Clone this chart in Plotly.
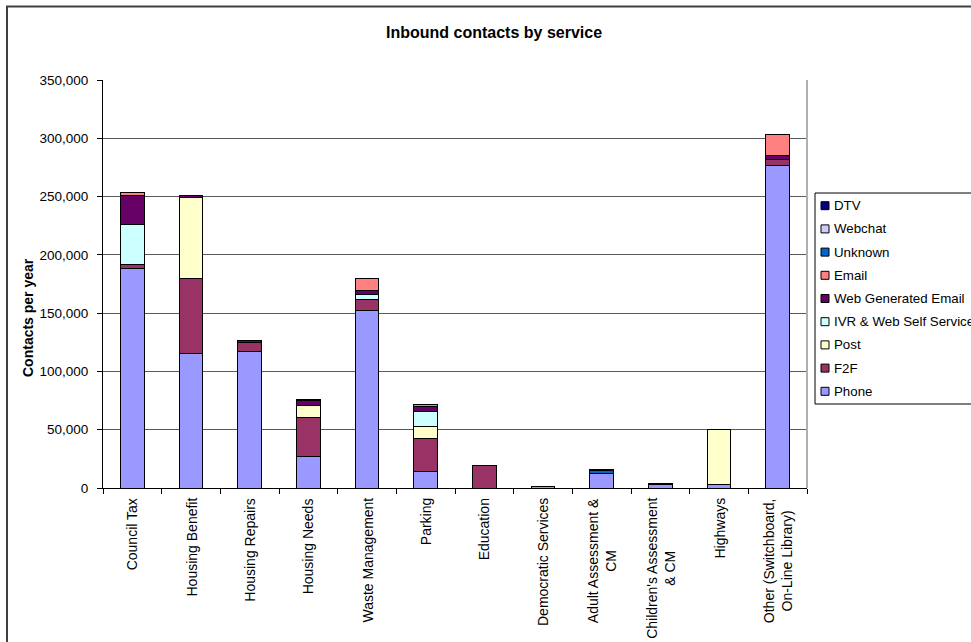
import plotly.graph_objects as go

categories = [
    "Council Tax", "Housing Benefit", "Housing Repairs", "Housing Needs",
    "Waste Management", "Parking", "Education", "Democratic Services",
    "Adult Assessment &<br>CM", "Children's Assessment<br>& CM", "Highways",
    "Other (Switchboard,<br>On-Line Library)",
]

phone   = [188000, 115500, 117000, 27000, 152000, 14000, 0, 1100, 12600, 2800, 3400, 277000]
f2f     = [3800, 64000, 8200, 33800, 9500, 28700, 19500, 0, 0, 0, 0, 4900]
post    = [0, 69500, 0, 10000, 0, 10000, 0, 0, 0, 0, 46400, 0]
ivr     = [34500, 0, 0, 0, 4300, 13200, 0, 0, 0, 0, 0, 0]
web_gen = [25000, 1500, 1300, 4300, 4000, 4300, 0, 0, 0, 500, 500, 3700]
email   = [2300, 0, 0, 0, 10300, 1700, 0, 0, 0, 0, 0, 18000]
unknown = [0, 0, 0, 0, 0, 0, 0, 0, 2800, 700, 0, 0]
webchat = [0, 0, 0, 0, 0, 0, 0, 0, 0, 0, 0, 0]
dtv     = [0, 0, 0, 1200, 0, 0, 0, 0, 800, 0, 0, 0]

series_names = ["Phone", "F2F", "Post", "IVR & Web Self Service", "Web Generated Email",
                "Email", "Unknown", "Webchat", "DTV"]
series_values = [phone, f2f, post, ivr, web_gen, email, unknown, webchat, dtv]
series_colors = ["#9999FF", "#993366", "#FFFFCC", "#CCFFFF", "#660066",
                 "#FF8080", "#0066CC", "#CCCCFF", "#000080"]

y_ticks = [0, 50000, 100000, 150000, 200000, 250000, 300000, 350000]

FONT = "Arial, Liberation Sans, sans-serif"
W, H = 971, 642
L, R, T, B = 103, 164, 80, 154
PW, PH = W - L - R, H - T - B


def px_x(px):
    return (px - L) / PW


def px_y(py):
    return (H - B - py) / PH


fig = go.Figure()
for name, vals, col in zip(series_names, series_values, series_colors):
    fig.add_trace(go.Bar(
        x=categories, y=[v if v else None for v in vals], name=name,
        marker=dict(color=col, line=dict(color="black", width=1)),
        showlegend=False,
    ))

shapes = []
annotations = []

# outer chart border
shapes.append(dict(type="rect", xref="paper", yref="paper",
                   x0=px_x(7), x1=px_x(1000), y0=px_y(6.5), y1=px_y(680),
                   line=dict(color="#404040", width=2), layer="below"))
# plot area right border
shapes.append(dict(type="line", xref="paper", yref="paper", x0=1, x1=1, y0=0, y1=1,
                   line=dict(color="#B0B0B0", width=2)))

# category labels
for c in categories:
    annotations.append(dict(xref="x", yref="paper", x=c, y=0, yshift=-8,
                            text=c, textangle=-90, showarrow=False,
                            xanchor="center", yanchor="top", align="center",
                            font=dict(family=FONT, size=14, color="black")))

# title
annotations.append(dict(xref="paper", yref="paper", x=px_x(494), y=px_y(33),
                        text="<b>Inbound contacts by service</b>", showarrow=False,
                        xanchor="center", yanchor="middle",
                        font=dict(family=FONT, size=16, color="black")))
# y-axis title
annotations.append(dict(xref="paper", yref="paper", x=px_x(28), y=px_y(318),
                        text="<b>Contacts per year</b>", showarrow=False, textangle=-90,
                        xanchor="center", yanchor="middle",
                        font=dict(family=FONT, size=14, color="black")))

# legend (manual, reversed order: DTV on top)
shapes.append(dict(type="rect", xref="paper", yref="paper",
                   x0=px_x(815), x1=px_x(1000), y0=px_y(193), y1=px_y(404),
                   line=dict(color="black", width=1), fillcolor="white"))
row_y0, row_dy = 205.7, 23.2
for i, (name, col) in enumerate(zip(reversed(series_names), reversed(series_colors))):
    cy = row_y0 + i * row_dy
    shapes.append(dict(type="rect", xref="paper", yref="paper",
                       x0=px_x(821), x1=px_x(829), y0=px_y(cy - 4), y1=px_y(cy + 4),
                       line=dict(color="black", width=1), fillcolor=col))
    annotations.append(dict(xref="paper", yref="paper", x=px_x(832), y=px_y(cy),
                            text=name, showarrow=False, xanchor="left", yanchor="middle",
                            font=dict(family=FONT, size=13.3, color="black")))

fig.update_layout(
    width=W, height=H,
    margin=dict(l=L, r=R, t=T, b=B, pad=0),
    barmode="stack", bargap=0.6,
    paper_bgcolor="white", plot_bgcolor="white",
    font=dict(family=FONT, size=13, color="black"),
    shapes=shapes, annotations=annotations,
    showlegend=False,
    xaxis=dict(type="category", showticklabels=False, ticks="outside", tickson="boundaries",
               ticklen=5, tickcolor="black", showline=True, linecolor="black", linewidth=1,
               showgrid=False, fixedrange=True),
    yaxis=dict(range=[0, 350000], tickvals=y_ticks, tickformat=",", ticks="outside",
               ticklen=5, tickcolor="black", showline=True, linecolor="black", linewidth=1,
               showgrid=True, gridcolor="#5a5a5a", gridwidth=1, zeroline=False,
               tickfont=dict(family=FONT, size=13.5, color="black"), ticklabelstandoff=6),
)

fig.write_html(
    "out.html",
    config={"displayModeBar": False},
    post_script="document.body.style.margin='0';document.body.style.overflow='hidden';",
)
